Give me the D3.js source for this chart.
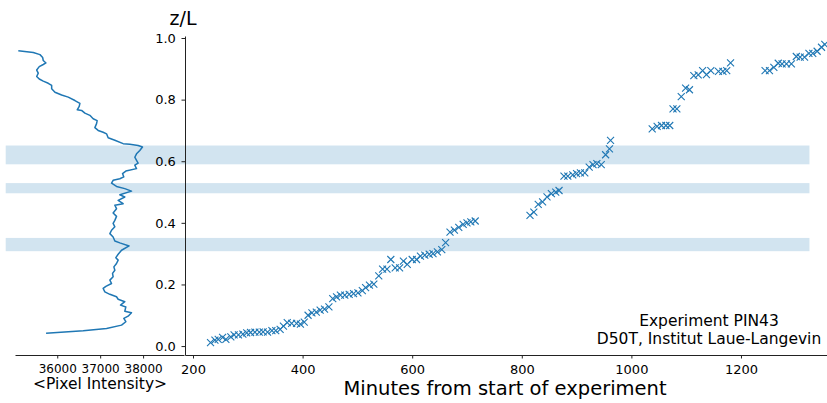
<!DOCTYPE html>
<html>
<head>
<meta charset="utf-8">
<script src="https://cdn.jsdelivr.net/npm/d3@7"></script>
<style>
  html, body { margin: 0; padding: 0; background: #fff; }
  svg { display: block; font-family: "DejaVu Sans", sans-serif; }
</style>
</head>
<body>
<svg id="chart" width="827" height="403"></svg>
<script>
// Interface position z/L against time since the start of the run
const minutes = [
  232, 240, 246, 254, 260, 269, 275, 283, 291, 298, 305, 313, 321, 328, 336, 344, 351, 359,
  365, 372, 380, 389, 396, 403, 410, 417, 425, 432, 440, 448, 455, 462, 469, 477, 485, 493,
  501, 509, 515, 522, 530, 539, 546, 554, 561, 569, 577, 584, 591, 600, 608, 615, 623, 631,
  638, 646, 654, 661, 669, 677, 685, 693, 700, 707, 715,
  815, 822, 830, 838, 846, 854, 862, 868, 877, 884, 893, 900, 907, 915, 923, 930, 937, 945,
  953, 960, 962,
  1038, 1047, 1055, 1063, 1070, 1076, 1083, 1091, 1099, 1106, 1114, 1122, 1130, 1137, 1145,
  1159, 1167, 1174, 1181,
  1244, 1252, 1260, 1268, 1275, 1283, 1292, 1301, 1308, 1316, 1324, 1331, 1339, 1347, 1353
];
const zOverL = [
  0.011, 0.019, 0.022, 0.028, 0.022, 0.030, 0.036, 0.036, 0.039, 0.043, 0.044, 0.045, 0.045, 0.046, 0.045, 0.050, 0.050, 0.054,
  0.065, 0.076, 0.074, 0.074, 0.071, 0.078, 0.100, 0.108, 0.110, 0.117, 0.120, 0.127, 0.154, 0.160, 0.165, 0.165, 0.168, 0.170,
  0.173, 0.180, 0.190, 0.198, 0.201, 0.228, 0.250, 0.250, 0.281, 0.254, 0.254, 0.276, 0.265, 0.281, 0.281, 0.292, 0.295, 0.298,
  0.300, 0.306, 0.313, 0.336, 0.370, 0.376, 0.385, 0.395, 0.400, 0.403, 0.406,
  0.424, 0.435, 0.460, 0.468, 0.484, 0.495, 0.500, 0.505, 0.552, 0.552, 0.556, 0.560, 0.562, 0.562, 0.581, 0.589, 0.592, 0.589,
  0.621, 0.640, 0.668,
  0.705, 0.713, 0.716, 0.716, 0.716, 0.770, 0.770, 0.810, 0.837, 0.832, 0.878, 0.880, 0.894, 0.881, 0.894,
  0.892, 0.892, 0.894, 0.919,
  0.894, 0.894, 0.905, 0.918, 0.916, 0.916, 0.916, 0.940, 0.938, 0.938, 0.950, 0.950, 0.957, 0.970, 0.979
];

// Mean pixel intensity profile along the cell height
const profileZ = [
  0.042, 0.050, 0.057, 0.068, 0.079, 0.090, 0.097, 0.108, 0.113, 0.127, 0.133, 0.144, 0.152, 0.160,
  0.168, 0.176, 0.187, 0.194, 0.203, 0.214, 0.225, 0.236, 0.246, 0.257, 0.268, 0.279, 0.287, 0.298,
  0.311, 0.325, 0.335, 0.341, 0.354, 0.365, 0.376, 0.387, 0.398, 0.408, 0.421, 0.432, 0.446, 0.457,
  0.462, 0.473, 0.484, 0.491, 0.503, 0.511, 0.518, 0.529, 0.538, 0.543, 0.549, 0.560, 0.568, 0.576,
  0.587, 0.594, 0.603, 0.613, 0.624, 0.635, 0.646, 0.651, 0.655, 0.657, 0.668, 0.676, 0.689, 0.694,
  0.700, 0.709, 0.722, 0.732, 0.738, 0.749, 0.756, 0.765, 0.767, 0.778, 0.788, 0.797, 0.808, 0.815,
  0.824, 0.835, 0.846, 0.853, 0.860, 0.867, 0.875, 0.886, 0.896, 0.907, 0.914, 0.919, 0.927, 0.937,
  0.946, 0.953, 0.959
];
const profileIntensity = [
  35740, 36605, 37149, 37498, 37598, 37551, 37651, 37730, 37574, 37598, 37474, 37574, 37419, 37381,
  37226, 37109, 37070, 37133, 37265, 37226, 37302, 37288, 37342, 37319, 37381, 37419, 37365, 37419,
  37498, 37674, 37458, 37342, 37302, 37226, 37265, 37342, 37302, 37342, 37381, 37302, 37381, 37342,
  37535, 37419, 37574, 37458, 37730, 37574, 37381, 37265, 37302, 37458, 37551, 37521, 37598, 37847,
  37807, 37884, 37847, 37807, 37847, 37923, 37986, 37884, 37691, 37535, 37342, 37186, 37149, 37070,
  36953, 36877, 36916, 36930, 36837, 36760, 36644, 36567, 36465, 36512, 36528, 36412, 36256, 36102,
  35947, 35870, 35870, 35791, 35674, 35581, 35521, 35558, 35521, 35581, 35674, 35737, 35674, 35660,
  35598, 35442, 35093
];

// Highlighted layers (z/L ranges)
const bandLow  = [0.590, 0.496, 0.308];
const bandHigh = [0.651, 0.529, 0.351];
const bandFromIntensity = 34800;
const bandToMinute = 1325;

const zTicks = [0.0, 0.2, 0.4, 0.6, 0.8, 1.0];
const minuteTicks = [200, 400, 600, 800, 1000, 1200];
const intensityTicks = [36000, 37000, 38000];

const blue = "#1f77b4";
const svg = d3.select("#chart");

const y = d3.scaleLinear().domain([-0.029, 1.0065]).range([355, 36]);
const x = d3.scaleLinear().domain([185.4, 1357]).range([185, 827]);
const xI = d3.scaleLinear().domain([35016, 38953]).range([15, 184]);

// bands behind everything
svg.append("g").selectAll("rect")
  .data(bandLow.map((lo, i) => [lo, bandHigh[i]]))
  .join("rect")
  .attr("x", xI(bandFromIntensity))
  .attr("width", x(bandToMinute) - xI(bandFromIntensity))
  .attr("y", d => y(d[1]))
  .attr("height", d => y(d[0]) - y(d[1]))
  .attr("fill", blue)
  .attr("fill-opacity", 0.2);

// intensity profile panel
svg.append("path")
  .datum(profileZ.map((z, i) => [profileIntensity[i], z]))
  .attr("fill", "none")
  .attr("stroke", blue)
  .attr("stroke-width", 1.5)
  .attr("stroke-linejoin", "round")
  .attr("d", d3.line().x(d => xI(d[0])).y(d => y(d[1])));

const axI = svg.append("g")
  .attr("transform", `translate(0,${y.range()[0]})`)
  .call(d3.axisBottom(xI).tickValues(intensityTicks).tickSize(3.5).tickSizeOuter(0).tickFormat(d3.format("d")));
axI.selectAll("text").attr("font-size", 12).attr("font-family", "DejaVu Sans").attr("fill", "#000").attr("dy", "0.95em");

svg.append("text")
  .attr("x", 100).attr("y", 389)
  .attr("text-anchor", "middle")
  .attr("font-size", 15.5)
  .text("<Pixel Intensity>");

// main scatter panel
const axY = svg.append("g")
  .attr("transform", `translate(${x.range()[0]},0)`)
  .call(d3.axisLeft(y).tickValues(zTicks).tickSize(3.5).tickSizeOuter(0).tickFormat(d3.format(".1f")));
axY.selectAll("text").attr("font-size", 13).attr("font-family", "DejaVu Sans").attr("fill", "#000").attr("dx", "-0.2em");

const axX = svg.append("g")
  .attr("transform", `translate(0,${y.range()[0]})`)
  .call(d3.axisBottom(x).tickValues(minuteTicks).tickSize(3.5).tickSizeOuter(0).tickFormat(d3.format("d")));
axX.selectAll("text").attr("font-size", 13).attr("font-family", "DejaVu Sans").attr("fill", "#000").attr("dy", "0.95em");

svg.selectAll(".domain").attr("stroke", "#222").attr("stroke-width", 1);
svg.selectAll(".tick line").attr("stroke", "#222");

const s = 3.5;
svg.append("g").selectAll("path")
  .data(minutes.map((m, i) => [m, zOverL[i]]))
  .join("path")
  .attr("transform", d => `translate(${x(d[0])},${y(d[1])})`)
  .attr("d", `M${-s},${-s}L${s},${s}M${-s},${s}L${s},${-s}`)
  .attr("stroke", blue)
  .attr("stroke-width", 1.1)
  .attr("fill", "none");

svg.append("text")
  .attr("x", 183).attr("y", 25)
  .attr("text-anchor", "middle")
  .attr("font-size", 19)
  .text("z/L");

svg.append("text")
  .attr("x", 505).attr("y", 395)
  .attr("text-anchor", "middle")
  .attr("font-size", 19.5)
  .text("Minutes from start of experiment");

const note = svg.append("text")
  .attr("text-anchor", "middle")
  .attr("font-size", 15.5);
note.append("tspan").attr("x", 709).attr("y", 326).text("Experiment PIN43");
note.append("tspan").attr("x", 709).attr("y", 344).text("D50T, Institut Laue-Langevin");
</script>
</body>
</html>
